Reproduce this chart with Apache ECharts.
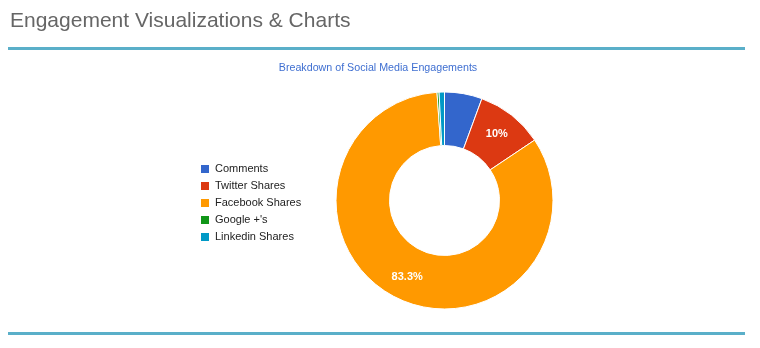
<!DOCTYPE html>
<html>
<head>
<meta charset="utf-8">
<script src="https://cdn.jsdelivr.net/npm/echarts@6/dist/echarts.min.js"></script>
<style>
  html, body { margin: 0; padding: 0; background: #fff; }
  #chart { width: 760px; height: 348px; }
</style>
</head>
<body>
<div id="chart"></div>
<script>
// Share of engagements per channel (percent)
const categories = ['Comments', 'Twitter Shares', 'Facebook Shares', 'Google +\'s', 'Linkedin Shares'];
const shares = [5.6, 10.0, 83.3, 0.3, 0.8];
const colors = ['#3366cc', '#dc3912', '#ff9900', '#109618', '#0099c6'];
// Slices large enough to carry an in-slice percentage label
const labelled = ['Twitter Shares', 'Facebook Shares'];

const fontFamily = '"Liberation Sans", Arial, Helvetica, sans-serif';

const chart = echarts.init(document.getElementById('chart'), null, { renderer: 'canvas' });

const pieData = categories.map((name, i) => ({
  name,
  value: shares[i],
  itemStyle: { color: colors[i] },
  label: { show: labelled.includes(name) }
}));

const total = shares.reduce((a, b) => a + b, 0);

chart.setOption({
  animation: false,
  color: colors,
  title: [
    {
      text: 'Engagement Visualizations & Charts',
      left: 10, top: 11, padding: 0,
      textStyle: { fontFamily, fontSize: 21, fontWeight: 'normal', color: '#666666' }
    },
    {
      text: 'Breakdown of Social Media Engagements',
      left: 378, top: 63, padding: 0, textAlign: 'center',
      textStyle: { fontFamily, fontSize: 10.7, fontWeight: 'normal', color: '#3f6fd1' }
    }
  ],
  graphic: [
    { type: 'rect', shape: { x: 8, y: 47, width: 737, height: 3 }, style: { fill: '#5aafc9' } },
    { type: 'rect', shape: { x: 8, y: 332, width: 737, height: 3 }, style: { fill: '#5aafc9' } }
  ],
  legend: {
    orient: 'vertical',
    left: 199, top: 163, padding: 0,
    icon: 'rect',
    itemWidth: 10, itemHeight: 10, itemGap: 5,
    data: categories,
    textStyle: { fontFamily, fontSize: 11, color: '#222222' }
  },
  series: [{
    type: 'pie',
    center: [444.5, 200.5],
    radius: [55, 108.5],
    startAngle: 90,
    clockwise: true,
    avoidLabelOverlap: false,
    itemStyle: { borderColor: '#ffffff', borderWidth: 1 },
    label: {
      position: 'inside',
      color: '#ffffff',
      fontFamily, fontSize: 11, fontWeight: 'bold',
      formatter: p => {
        const pct = Math.round(p.value / total * 1000) / 10;
        return (pct % 1 === 0 ? pct.toFixed(0) : pct.toFixed(1)) + '%';
      }
    },
    labelLine: { show: false },
    emphasis: { disabled: true },
    data: pieData
  }]
});
</script>
</body>
</html>
